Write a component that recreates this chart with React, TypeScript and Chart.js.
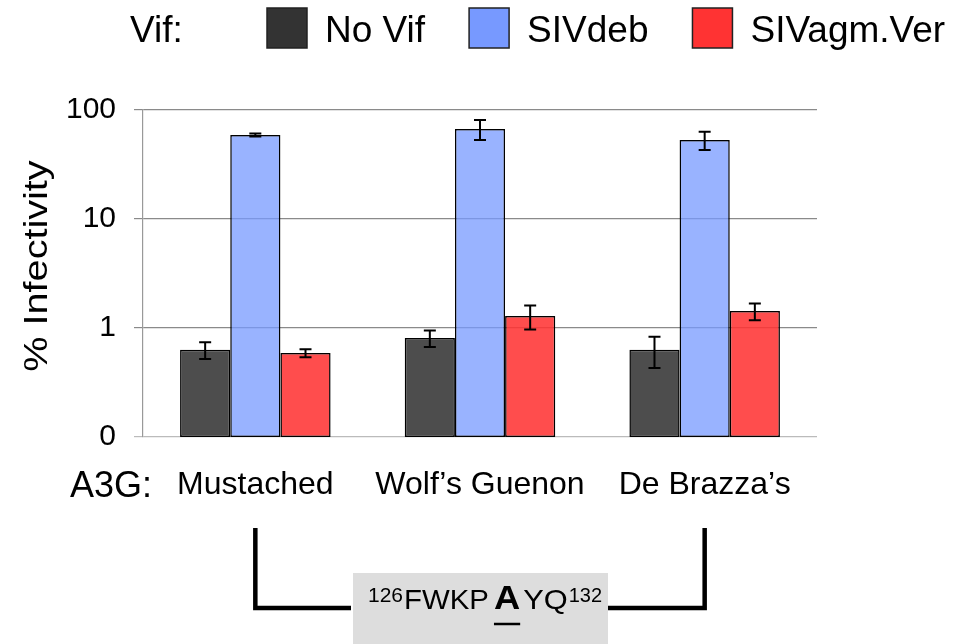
import React, { useEffect, useRef } from 'react';
import { Chart, registerables } from 'chart.js';

Chart.register(...registerables);

const FONT = '"Liberation Sans", Arial, Helvetica, sans-serif';

const categories = ['Mustached', 'Wolf\u2019s Guenon', 'De Brazza\u2019s'];
const seriesNames = ['No Vif', 'SIVdeb', 'SIVagm.Ver'];
const noVif = [0.63, 0.81, 0.63];
const noVifErr = [0.11, 0.14, 0.2];
const sivDeb = [59, 67, 53];
const sivDebErr = [2, 14, 10];
const sivAgm = [0.59, 1.29, 1.43];
const sivAgmErr = [0.05, 0.32, 0.25];
const yTicks = [0.1, 1, 10, 100];
const yTickLabels = ['0', '1', '10', '100'];
const legendColors = ['#333333', '#7799ff', '#ff3333'];
const barColors = ['rgba(51,51,51,0.87)', 'rgba(119,153,255,0.75)', 'rgba(255,51,51,0.87)'];

const seriesValues = [noVif, sivDeb, sivAgm];
const seriesErrors = [noVifErr, sivDebErr, sivAgmErr];

function drawText(ctx: CanvasRenderingContext2D, s: string, x: number, y: number, font: string, sx = 1): number {
  ctx.save();
  ctx.font = font;
  ctx.translate(x, y);
  ctx.scale(sx, 1);
  ctx.textAlign = 'left';
  ctx.textBaseline = 'alphabetic';
  ctx.fillStyle = '#000';
  ctx.fillText(s, 0, 0);
  const w = ctx.measureText(s).width * sx;
  ctx.restore();
  return w;
}

const errorBarsPlugin = {
  id: 'errorBars',
  afterDatasetsDraw(chart: any) {
    const ctx = chart.ctx as CanvasRenderingContext2D;
    const ys = chart.scales.y;
    chart.data.datasets.forEach((ds: any, i: number) => {
      const meta = chart.getDatasetMeta(i);
      meta.data.forEach((bar: any, j: number) => {
        const v = seriesValues[i][j];
        const e = seriesErrors[i][j];
        const top = ys.getPixelForValue(v + e);
        const bot = ys.getPixelForValue(v - e);
        ctx.save();
        ctx.strokeStyle = '#000';
        ctx.lineWidth = 2;
        ctx.beginPath();
        ctx.moveTo(bar.x, top);
        ctx.lineTo(bar.x, bot);
        ctx.moveTo(bar.x - 6, top);
        ctx.lineTo(bar.x + 6, top);
        ctx.moveTo(bar.x - 6, bot);
        ctx.lineTo(bar.x + 6, bot);
        ctx.stroke();
        ctx.restore();
      });
    });
  },
};

const annotationsPlugin = {
  id: 'annotations',
  afterDraw(chart: any) {
    const ctx = chart.ctx as CanvasRenderingContext2D;
    const xs = chart.scales.x;

    // Legend
    drawText(ctx, 'Vif:', 130, 42, `37px ${FONT}`);
    let lx = 267;
    seriesNames.forEach((name, i) => {
      ctx.save();
      ctx.fillStyle = legendColors[i];
      ctx.fillRect(lx, 8, 40, 40);
      ctx.strokeStyle = '#222';
      ctx.lineWidth = 1.5;
      ctx.strokeRect(lx, 8, 40, 40);
      ctx.restore();
      const w = drawText(ctx, name, lx + 58, 42, `37px ${FONT}`);
      lx = lx + 58 + w + 44;
    });

    // Y axis title (stretched along its length like the original)
    ctx.save();
    ctx.translate(47, 266);
    ctx.rotate(-Math.PI / 2);
    ctx.scale(1.2, 1);
    ctx.font = `33px ${FONT}`;
    ctx.textAlign = 'center';
    ctx.textBaseline = 'alphabetic';
    ctx.fillStyle = '#000';
    ctx.fillText('% Infectivity', 0, 0);
    ctx.restore();

    // A3G label
    drawText(ctx, 'A3G:', 70, 497, `36px ${FONT}`);

    // Grey sequence box
    ctx.save();
    ctx.fillStyle = '#dddddd';
    ctx.fillRect(353, 573, 255, 71);
    ctx.restore();

    // Bracket
    const c0 = xs.getPixelForValue(0);
    const c2 = xs.getPixelForValue(2);
    ctx.save();
    ctx.strokeStyle = '#000';
    ctx.lineWidth = 4.5;
    ctx.lineJoin = 'miter';
    ctx.beginPath();
    ctx.moveTo(c0, 528);
    ctx.lineTo(c0, 608);
    ctx.lineTo(351, 608);
    ctx.moveTo(c2, 528);
    ctx.lineTo(c2, 608);
    ctx.lineTo(608, 608);
    ctx.stroke();
    ctx.restore();

    // Sequence text
    let sx = 368;
    sx += drawText(ctx, '126', sx, 602, `20px ${FONT}`, 1.05) + 1;
    sx += drawText(ctx, 'FWKP', sx, 609, `28px ${FONT}`, 1.05) + 5;
    const aStart = sx;
    const aw = drawText(ctx, 'A', sx, 609, `bold 33px ${FONT}`, 1.1);
    ctx.save();
    ctx.strokeStyle = '#000';
    ctx.lineWidth = 2.5;
    ctx.beginPath();
    ctx.moveTo(aStart, 624);
    ctx.lineTo(aStart + aw, 624);
    ctx.stroke();
    ctx.restore();
    sx += aw + 3;
    sx += drawText(ctx, 'YQ', sx, 609, `28px ${FONT}`, 1.1) + 1;
    drawText(ctx, '132', sx, 602, `20px ${FONT}`, 1.0);
  },
};

export default function App() {
  const ref = useRef<HTMLCanvasElement>(null);

  useEffect(() => {
    const chart = new Chart(ref.current as HTMLCanvasElement, {
      type: 'bar',
      data: {
        labels: categories,
        datasets: seriesNames.map((name, i) => ({
          label: name,
          data: seriesValues[i],
          backgroundColor: barColors[i],
          borderColor: '#000',
          borderWidth: 1.5,
          borderSkipped: false,
          categoryPercentage: 0.67,
          barPercentage: 1,
        })),
      },
      options: {
        animation: false,
        responsive: true,
        maintainAspectRatio: false,
        layout: { padding: { top: 110, right: 138, left: 0, bottom: 0 } },
        plugins: { legend: { display: false }, tooltip: { enabled: false } },
        scales: {
          x: {
            grid: { display: false, drawTicks: false },
            border: { display: false },
            ticks: {
              color: '#000',
              font: { family: FONT, size: 32 },
              padding: 29,
              maxRotation: 0,
              autoSkip: false,
            },
            afterFit: (s: any) => {
              s.height = 207;
            },
          },
          y: {
            type: 'logarithmic',
            min: 0.1,
            max: 100,
            afterBuildTicks: (s: any) => {
              s.ticks = yTicks.map((v) => ({ value: v }));
            },
            ticks: {
              color: '#000',
              font: { family: FONT, size: 30 },
              padding: 18,
              callback: (v: any) => {
                const i = yTicks.indexOf(Number(v));
                return i >= 0 ? yTickLabels[i] : '';
              },
            },
            grid: {
              color: (c: any) => (c.tick && c.tick.value === 0.1 ? '#bbbbbb' : '#8a8a8a'),
              lineWidth: 1.2,
              tickLength: 9,
            },
            border: { color: '#999999', width: 1.2 },
            afterFit: (s: any) => {
              s.width = 143;
            },
          },
        },
      } as any,
      plugins: [errorBarsPlugin, annotationsPlugin],
    });
    return () => chart.destroy();
  }, []);

  return (
    <div style={{ position: 'absolute', left: 0, top: 0, width: 955, height: 644 }}>
      <canvas ref={ref} />
    </div>
  );
}
